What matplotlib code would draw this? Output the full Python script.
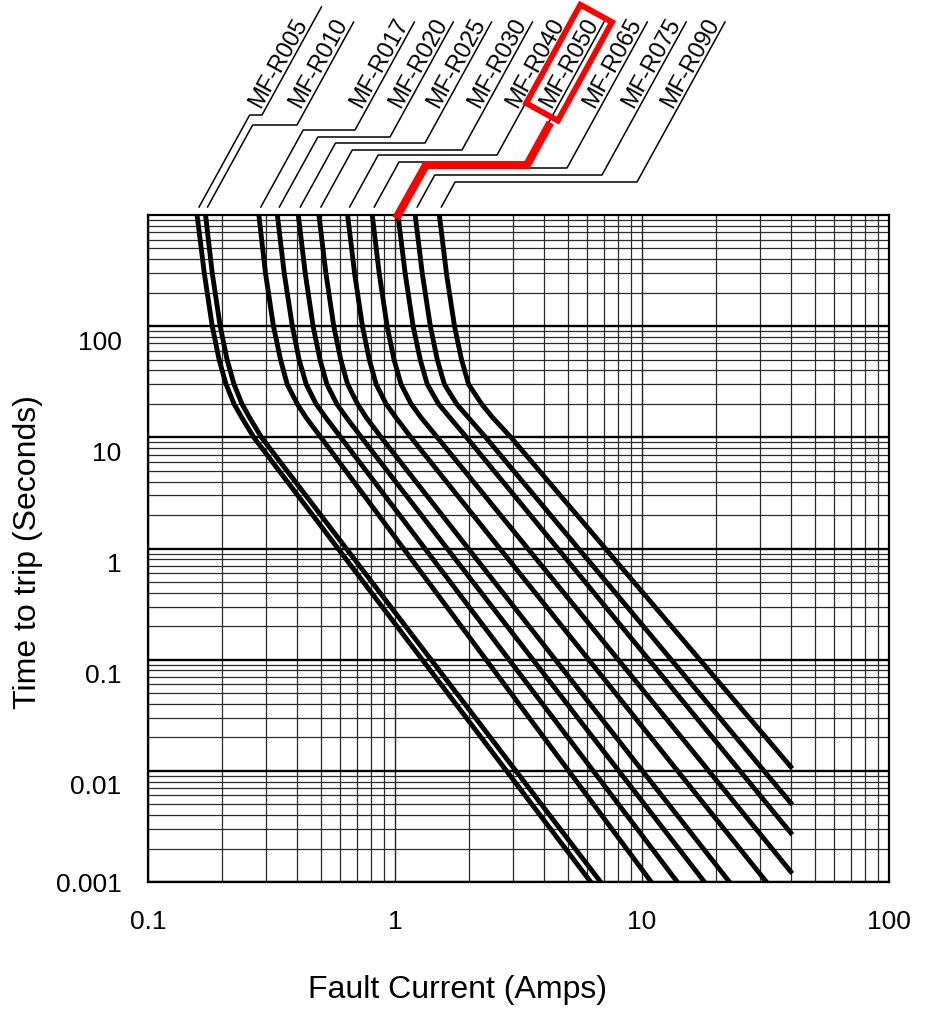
import numpy as np
import matplotlib
matplotlib.use('Agg')
import matplotlib.pyplot as plt
import matplotlib.transforms as mtransforms
from matplotlib.lines import Line2D
from matplotlib.ticker import LogLocator, NullFormatter

plt.rcParams['font.family'] = ['Liberation Sans Narrow', 'Liberation Sans', 'DejaVu Sans']

# device names, left to right
names = ['MF-R005', 'MF-R010', 'MF-R017', 'MF-R020', 'MF-R025', 'MF-R030',
         'MF-R040', 'MF-R050', 'MF-R065', 'MF-R075', 'MF-R090']

# times (s) at which the knee of each curve was read
t_read = [1000, 300, 100, 50, 30, 20, 15, 10]

# fault current (A) read at those times
i_r005 = [0.158, 0.169, 0.182, 0.194, 0.207, 0.223, 0.240, 0.268]
i_r010 = [0.171, 0.182, 0.196, 0.209, 0.223, 0.240, 0.258, 0.288]
i_r017 = [0.281, 0.299, 0.322, 0.344, 0.366, 0.402, 0.437, 0.501]
i_r020 = [0.334, 0.356, 0.384, 0.409, 0.437, 0.479, 0.525, 0.603]
i_r025 = [0.406, 0.433, 0.466, 0.497, 0.530, 0.581, 0.637, 0.731]
i_r030 = [0.492, 0.525, 0.565, 0.603, 0.643, 0.705, 0.766, 0.879]
i_r040 = [0.643, 0.686, 0.738, 0.787, 0.839, 0.920, 1.01, 1.16]
i_r050 = [0.809, 0.863, 0.929, 0.991, 1.058, 1.162, 1.277, 1.483]
i_r065 = [1.028, 1.099, 1.184, 1.265, 1.351, 1.50, 1.67, 1.949]
i_r075 = [1.207, 1.289, 1.390, 1.483, 1.585, 1.775, 1.985, 2.329]
i_r090 = [1.512, 1.615, 1.741, 1.859, 1.986, 2.24, 2.49, 2.947]
curves_i = [i_r005, i_r010, i_r017, i_r020, i_r025, i_r030,
            i_r040, i_r050, i_r065, i_r075, i_r090]

# end point of the straight tail of each curve
end_i = [6.2, 6.8, 10.9, 13.9, 17.9, 22.6, 31.9, 40, 40, 40, 40]
end_t = [0.001, 0.001, 0.001, 0.001, 0.001, 0.001, 0.001,
         0.00124, 0.00277, 0.00515, 0.0109]

x_ticks = [0.1, 1, 10, 100]
x_tick_labels = ['0.1', '1', '10', '100']
y_ticks = [0.001, 0.01, 0.1, 1, 10, 100]
y_tick_labels = ['0.001', '0.01', '0.1', '1', '10', '100']

W, H = 948, 1024
fig = plt.figure(figsize=(W / 100, H / 100), dpi=100)
ax = fig.add_axes([148 / W, 1 - 882 / H, (889 - 148) / W, (882 - 215) / H])
ax.set_xscale('log')
ax.set_yscale('log')
ax.set_xlim(0.1, 100)
ax.set_ylim(0.001, 1000)

for ci, ei, et in zip(curves_i, end_i, end_t):
    ax.plot(ci + [ei], t_read + [et], color='black', lw=3.5,
            solid_joinstyle='round', zorder=3)

# log grid: heavier lines only at the time decades
for axis in (ax.xaxis, ax.yaxis):
    axis.set_minor_locator(LogLocator(base=10, subs=np.arange(2, 10), numticks=50))
    axis.set_minor_formatter(NullFormatter())
ax.yaxis.grid(True, which='major', color='black', lw=1.7, zorder=1)
ax.xaxis.grid(True, which='major', color='#222222', lw=1.0, zorder=1)
ax.grid(which='minor', color='#2a2a2a', lw=0.9, zorder=1)
ax.set_axisbelow(True)
for s in ax.spines.values():
    s.set_linewidth(1.6)

ax.set_xticks(x_ticks)
ax.set_xticklabels(x_tick_labels, fontsize=19)
ax.set_yticks(y_ticks)
ax.set_yticklabels(y_tick_labels, fontsize=19)
ax.tick_params(which='both', length=0)
ax.tick_params(axis='x', pad=20)
ax.tick_params(axis='y', pad=19)

# labels above 0.001 sit a bit below their gridline, as in the original
shift = mtransforms.ScaledTranslation(0, -14 / 100, fig.dpi_scale_trans)
for lab in ax.get_yticklabels()[1:]:
    lab.set_transform(lab.get_transform() + shift)

fig.text(457 / W, 1 - 990 / H, 'Fault Current (Amps)', fontsize=23,
         ha='center', va='center')
fig.text(28 / W, 1 - 552 / H, 'Time to trip (Seconds)', fontsize=23,
         rotation=90, ha='center', va='center')

# leader lines from each curve up to its name (pixel layout, y from top)
lead_yh = [115, 125, 130, 137, 143, 150, 155, 162, 168, 175, 182]
lead_xk = [262, 297, 355, 390, 425, 462, 497, 527, 567, 602, 637]
lead_top = [7] + [22] * 10
k = 0.55
ang = np.degrees(np.arctan2(1, k))


def fx(x):
    return x / W


def fy(y):
    return 1 - y / H


for i, name in enumerate(names):
    xb = ax.transData.transform((curves_i[i][0], 1000))[0] + 2
    yb = 207
    yh, xk, yt = lead_yh[i], lead_xk[i], lead_top[i]
    xs = [xb, xb + (yb - yh) * k, xk, xk + (yh - yt) * k]
    ys = [yb, yh, yh, yt]
    fig.add_artist(Line2D([fx(x) for x in xs], [fy(y) for y in ys],
                          transform=fig.transFigure, color='black', lw=1.1,
                          zorder=2))
    ya = 111
    xa = xk + (yh - ya) * k
    kw = {}
    if name == 'MF-R050':
        kw['bbox'] = dict(boxstyle='square,pad=0.3', fc='none', ec='#ff0000', lw=4.2)
    fig.text(fx(xa), fy(ya), name, rotation=ang, rotation_mode='anchor',
             ha='left', va='bottom', fontsize=17, zorder=4, **kw)

# red highlight path
x9 = ax.transData.transform((i_r065[0], 1000))[0]
rx = [x9, x9 + 50 * 0.56, lead_xk[7], lead_xk[7] + (165 - 126) * k]
ry = [215, 165, 165, 126]
fig.add_artist(Line2D([fx(x) for x in rx], [fy(y) for y in ry],
                      transform=fig.transFigure, color='#ff0000', lw=5.8,
                      solid_joinstyle='miter', zorder=5))

fig.savefig('out.png', dpi=100)
